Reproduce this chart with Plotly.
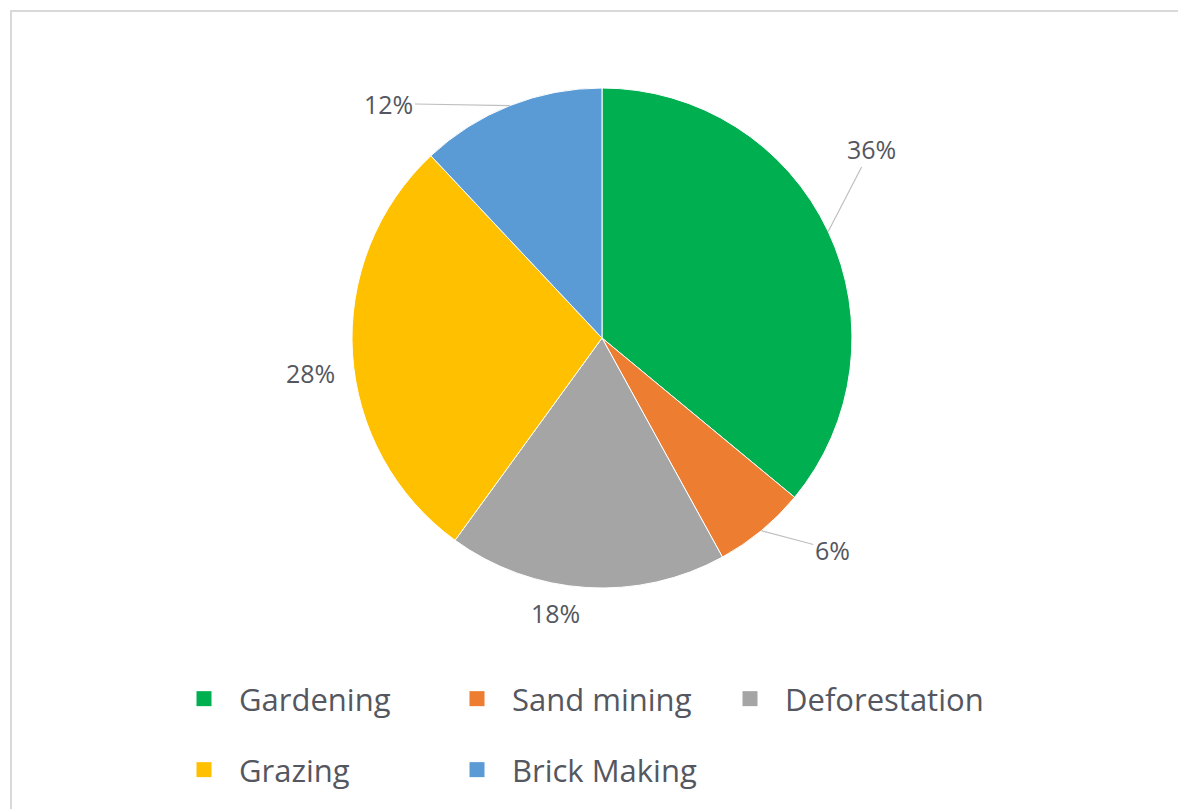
import math
import plotly.graph_objects as go

# Share of land-degradation causes
categories = ["Gardening", "Sand mining", "Deforestation", "Grazing", "Brick Making"]
shares = [36, 6, 18, 28, 12]
colors = ["#00B050", "#ED7D31", "#A5A5A5", "#FFC000", "#5B9BD5"]

W, H = 1178, 809
CX, CY, R = 602, 338, 250          # pie centre and radius in px
TEXT = "#555760"
FONT = "Open Sans"

fig = go.Figure()

fig.add_trace(go.Pie(
    labels=categories,
    values=shares,
    sort=False,
    direction="clockwise",
    rotation=0,
    marker=dict(colors=colors, line=dict(color="white", width=1)),
    textinfo="none",
    hoverinfo="label+percent",
    showlegend=False,
    domain=dict(x=[(CX - R) / W, (CX + R) / W], y=[1 - (CY + R) / H, 1 - (CY - R) / H]),
))

# Legend entries: first row / second row
for i, (name, col) in enumerate(zip(categories, colors)):
    fig.add_trace(go.Scatter(
        x=[None], y=[None], mode="markers", name=name,
        marker=dict(symbol="square", size=15, color=col),
        legend="legend" if i < 3 else "legend2",
        hoverinfo="skip",
    ))

# Percentage labels placed around the rim, offsets (px) from each slice's mid-point on the edge
label_offsets = [(43, -83, True), (71, 19, True), (-31, 25, False), (-42, 19, False), (-121, -2, True)]
annotations = []
cum = 0
for v, (dx, dy, line) in zip(shares, label_offsets):
    mid = (cum + v / 2) / sum(shares) * 2 * math.pi
    cum += v
    ex = (CX + R * math.sin(mid)) / W
    ey = 1 - (CY - R * math.cos(mid)) / H
    annotations.append(dict(
        x=ex, y=ey, xref="paper", yref="paper",
        text=f"{v}%", showarrow=True, arrowhead=0,
        arrowcolor="#bfbfbf" if line else "rgba(0,0,0,0)", arrowwidth=1.2,
        ax=dx, ay=dy, standoff=0,
        font=dict(family=FONT, size=25, color=TEXT),
    ))

legend_style = dict(
    orientation="h", xanchor="left", yanchor="middle",
    font=dict(family=FONT, size=31, color=TEXT),
    itemwidth=60,
    entrywidth=198, entrywidthmode="pixels",
    bgcolor="rgba(0,0,0,0)", itemclick=False, itemdoubleclick=False,
)

fig.update_layout(
    width=W, height=H,
    margin=dict(l=0, r=0, t=0, b=0),
    paper_bgcolor="white", plot_bgcolor="white",
    xaxis=dict(visible=False), yaxis=dict(visible=False),
    legend=dict(x=169 / W, y=1 - 699 / H, **legend_style),
    legend2=dict(x=169 / W, y=1 - 770 / H, **legend_style),
    annotations=annotations,
    shapes=[dict(type="rect", xref="paper", yref="paper",
                 x0=11 / W, y0=-0.05, x1=1.05, y1=1 - 11 / H,
                 line=dict(color="#d9d9d9", width=2), layer="below")],
)

fig.write_html("out.html")
